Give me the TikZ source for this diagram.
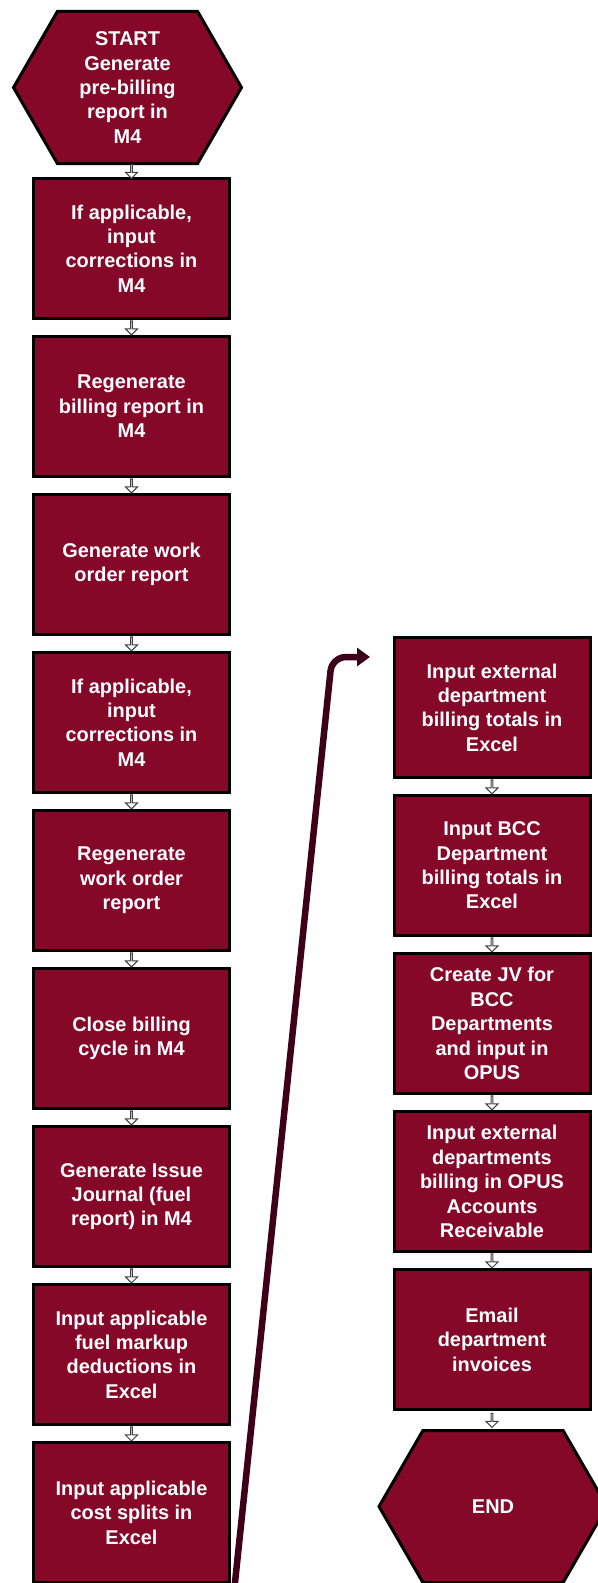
\documentclass[tikz,border=0pt]{standalone}
\usepackage{fontspec}
\setmainfont{Liberation Sans}
\usetikzlibrary{shapes.symbols,shapes.arrows,arrows.meta,positioning}

\definecolor{billred}{RGB}{134,8,40}
\definecolor{jumpline}{RGB}{62,0,24}

\begin{document}
\begin{tikzpicture}[
    x=1bp, y=-1bp,
    task/.style={
        rectangle, draw=black, fill=billred, line width=3bp,
        minimum width=196bp, minimum height=140bp,
        text=white, align=center, inner sep=2pt,
        font=\fontsize{20}{24.5}\selectfont\bfseries
    },
    terminal/.style={
        signal, signal to=east and west, signal pointer angle=120,
        draw=black, fill=billred, line width=3bp,
        minimum width=228bp, minimum height=152bp,
        text=white, align=center, inner sep=0pt,
        font=\fontsize{20}{24.5}\selectfont\bfseries
    },
    gaparrow/.style={
        single arrow, shape border rotate=270,
        draw=black!75, fill=white, line width=1bp,
        minimum height=14bp, minimum width=12bp,
        single arrow head extend=3bp, inner sep=0pt
    },
    jump/.style={-{Triangle[length=13bp,width=18bp]}, line width=6.5bp,
        draw=jumpline, rounded corners=14bp}
]
\useasboundingbox (0,0) rectangle (598,1583);

% Left column: M4 billing run
\node[terminal] (start) at (127.5,87.5) {START\\Generate\\pre-billing\\report in\\M4};
\node[task] (fixone) at (131.5,248.5) {If applicable,\\input\\corrections in\\M4};
\node[task, below=15bp of fixone] (regenbill) {Regenerate\\billing report in\\M4};
\node[task, below=15bp of regenbill] (workorder) {Generate work\\order report};
\node[task, below=15bp of workorder] (fixtwo) {If applicable,\\input\\corrections in\\M4};
\node[task, below=15bp of fixtwo] (regenwork) {Regenerate\\work order\\report};
\node[task, below=15bp of regenwork] (closecycle) {Close billing\\cycle in M4};
\node[task, below=15bp of closecycle] (issuejournal) {Generate Issue\\Journal (fuel\\report) in M4};
\node[task, below=15bp of issuejournal] (fuelmarkup) {Input applicable\\fuel markup\\deductions in\\Excel};
\node[task, below=15bp of fuelmarkup] (costsplits) {Input applicable\\cost splits in\\Excel};

% Right column: totals, OPUS and invoices
\node[task] (exttotals) at (492,707.5) {Input external\\department\\billing totals in\\Excel};
\node[task, below=15bp of exttotals] (bcctotals) {Input BCC\\Department\\billing totals in\\Excel};
\node[task, below=15bp of bcctotals] (createjv) {Create JV for\\BCC\\Departments\\and input in\\OPUS};
\node[task, below=15bp of createjv] (extopus) {Input external\\departments\\billing in OPUS\\Accounts\\Receivable};
\node[task, below=15bp of extopus] (emailinv) {Email\\department\\invoices};
\node[terminal, below=18bp of emailinv, xshift=1bp] (finish) {END};

% Small hollow arrows between steps
\path (start.south -| fixone) -- node[gaparrow] {} (fixone.north);
\path (fixone.south) -- node[gaparrow] {} (regenbill.north);
\path (regenbill.south) -- node[gaparrow] {} (workorder.north);
\path (workorder.south) -- node[gaparrow] {} (fixtwo.north);
\path (fixtwo.south) -- node[gaparrow] {} (regenwork.north);
\path (regenwork.south) -- node[gaparrow] {} (closecycle.north);
\path (closecycle.south) -- node[gaparrow] {} (issuejournal.north);
\path (issuejournal.south) -- node[gaparrow] {} (fuelmarkup.north);
\path (fuelmarkup.south) -- node[gaparrow] {} (costsplits.north);
\path (exttotals.south) -- node[gaparrow] {} (bcctotals.north);
\path (bcctotals.south) -- node[gaparrow] {} (createjv.north);
\path (createjv.south) -- node[gaparrow] {} (extopus.north);
\path (extopus.south) -- node[gaparrow] {} (emailinv.north);
\path (emailinv.south) -- node[gaparrow] {} (finish.north -| emailinv);

% Jump from the bottom of the left column to the right column
\coordinate (jumpfoot) at (234,1592);
\coordinate (jumpbend) at (332,657);
\coordinate (jumptip) at (370,657);
\draw[jump] (jumpfoot) -- (jumpbend) -- (jumptip);

\end{tikzpicture}
\end{document}
